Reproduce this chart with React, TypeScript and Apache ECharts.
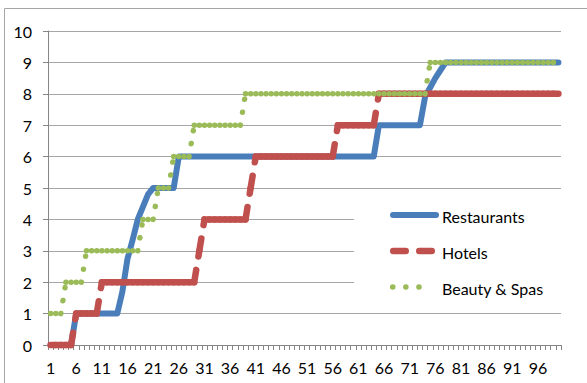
import React, { useEffect, useRef } from "react";
import * as echarts from "echarts";

const categories: string[] = Array.from({ length: 100 }, (_, i) => String(i + 1));
const yTicks = [0, 1, 2, 3, 4, 5, 6, 7, 8, 9, 10];

const restaurants: number[] = [
  0, 0, 0, 0, 0,
  1, 1, 1, 1, 1, 1, 1, 1, 1,
  1.7, 2.75, 3.35, 4, 4.4, 4.8,
  5, 5, 5, 5, 5,
  6, 6, 6, 6, 6, 6, 6, 6, 6, 6, 6, 6, 6, 6, 6, 6, 6, 6, 6, 6,
  6, 6, 6, 6, 6, 6, 6, 6, 6, 6, 6, 6, 6, 6, 6, 6, 6, 6, 6,
  7, 7, 7, 7, 7, 7, 7, 7, 7,
  7.9, 8.2, 8.5, 8.75,
  9, 9, 9, 9, 9, 9, 9, 9, 9, 9, 9, 9, 9, 9, 9, 9, 9, 9, 9, 9, 9, 9, 9,
];

const hotels: number[] = [
  0, 0, 0, 0, 0,
  1, 1, 1, 1, 1,
  2, 2, 2, 2, 2, 2, 2, 2, 2, 2, 2, 2, 2, 2, 2, 2, 2, 2, 2,
  3,
  4, 4, 4, 4, 4, 4, 4, 4, 4,
  5,
  6, 6, 6, 6, 6, 6, 6, 6, 6, 6, 6, 6, 6, 6, 6, 6,
  7, 7, 7, 7, 7, 7, 7, 7,
  8, 8, 8, 8, 8, 8, 8, 8, 8, 8, 8, 8, 8, 8, 8, 8, 8, 8,
  8, 8, 8, 8, 8, 8, 8, 8, 8, 8, 8, 8, 8, 8, 8, 8, 8, 8,
];

const beautySpas: number[] = [
  1, 1, 1,
  2, 2, 2, 2,
  3, 3, 3, 3, 3, 3, 3, 3, 3, 3, 3,
  4, 4, 4,
  5, 5, 5,
  6, 6, 6, 6,
  7, 7, 7, 7, 7, 7, 7, 7, 7, 7,
  8, 8, 8, 8, 8, 8, 8, 8, 8, 8, 8, 8, 8, 8, 8, 8, 8, 8,
  8, 8, 8, 8, 8, 8, 8, 8, 8, 8, 8, 8, 8, 8, 8, 8, 8, 8,
  9, 9, 9, 9, 9, 9, 9, 9, 9, 9, 9, 9, 9, 9, 9, 9, 9, 9, 9, 9, 9, 9, 9, 9, 9, 9,
];

const seriesNames = ["Restaurants", "Hotels", "Beauty & Spas"];
const BLUE = "#4a7ebb";
const RED = "#c0504d";
const GREEN = "#9bbb59";
const FONT = "Lato";

function segments(values: number[]) {
  const out: number[][] = [];
  for (let i = 0; i < values.length - 1; i++) out.push([i, values[i], values[i + 1]]);
  return out;
}

function segRenderer(color: string, width: number, dash: number[]) {
  return (_params: any, api: any) => {
    const i = api.value(0);
    const p1 = api.coord([i, api.value(1)]);
    const p2 = api.coord([i + 1, api.value(2)]);
    return {
      type: "line",
      shape: { x1: p1[0], y1: p1[1], x2: p2[0], y2: p2[1] },
      style: { stroke: color, lineWidth: width, lineDash: dash, lineCap: "round", fill: null },
    };
  };
}

export default function App() {
  const ref = useRef<HTMLDivElement>(null);
  useEffect(() => {
    if (!ref.current) return;
    const chart = echarts.init(ref.current, undefined, { renderer: "svg" });
    const legendY = [215, 251, 287];
    chart.setOption({
      animation: false,
      backgroundColor: "#ffffff",
      grid: { left: 48, right: 26, top: 31, bottom: 38, containLabel: false },
      xAxis: {
        type: "category",
        data: categories,
        boundaryGap: true,
        axisLine: { show: true, lineStyle: { color: "#868686", width: 1 } },
        axisTick: { show: true, interval: 0, length: 5, lineStyle: { color: "#868686" } },
        axisLabel: { interval: 4, margin: 14, fontSize: 16, fontFamily: FONT, color: "#000" },
        splitLine: { show: false },
      },
      yAxis: {
        type: "value",
        min: yTicks[0],
        max: yTicks[yTicks.length - 1],
        interval: 1,
        axisLine: { show: true, lineStyle: { color: "#868686", width: 1 } },
        axisTick: { show: true, length: 5, lineStyle: { color: "#868686" } },
        axisLabel: { margin: 16, fontSize: 16, fontFamily: FONT, color: "#000" },
        splitLine: { show: true, lineStyle: { color: "#a6a6a6", width: 1 } },
      },
      series: [
        {
          name: seriesNames[0],
          type: "line",
          data: restaurants,
          symbol: "none",
          lineStyle: { color: BLUE, width: 6, cap: "round", join: "round" },
          z: 2,
        },
        {
          name: seriesNames[1],
          type: "custom",
          data: segments(hotels),
          encode: { x: 0, y: [1, 2] },
          renderItem: segRenderer(RED, 6.5, [12.5, 13.5]),
          z: 3,
        },
        {
          name: seriesNames[2],
          type: "custom",
          data: segments(beautySpas),
          encode: { x: 0, y: [1, 2] },
          renderItem: segRenderer(GREEN, 5.5, [0.1, 13]),
          z: 4,
        },
      ],
      graphic: [
        {
          type: "rect",
          z: 1,
          silent: true,
          shape: { x: 4.5, y: 8.5, width: 620, height: 420 },
          style: { fill: null, stroke: "#a6a6a6", lineWidth: 1 },
        },
        {
          type: "rect",
          z: 5,
          silent: true,
          shape: { x: 354, y: 193, width: 210, height: 113 },
          style: { fill: "#ffffff", stroke: null },
        },
        {
          type: "line",
          z: 6,
          shape: { x1: 393, y1: legendY[0], x2: 436, y2: legendY[0] },
          style: { stroke: BLUE, lineWidth: 6, lineCap: "round" },
        },
        {
          type: "line",
          z: 6,
          shape: { x1: 393.25, y1: legendY[1], x2: 432, y2: legendY[1] },
          style: { stroke: RED, lineWidth: 6.5, lineCap: "round", lineDash: [12.5, 13.5] },
        },
        {
          type: "line",
          z: 6,
          shape: { x1: 392.7, y1: legendY[2], x2: 432, y2: legendY[2] },
          style: { stroke: GREEN, lineWidth: 5.5, lineCap: "round", lineDash: [0.1, 13] },
        },
        ...seriesNames.map((name, k) => ({
          type: "text",
          z: 6,
          x: 442,
          y: legendY[k] + 1.5,
          style: {
            text: name,
            fontSize: 16,
            fontFamily: FONT,
            fill: "#000",
            verticalAlign: "middle",
            align: "left",
          },
        })),
      ],
    });
    return () => chart.dispose();
  }, []);
  return (
    <div
      ref={ref}
      style={{ position: "fixed", left: 0, top: 0, width: 587, height: 383, background: "#fff" }}
    />
  );
}
